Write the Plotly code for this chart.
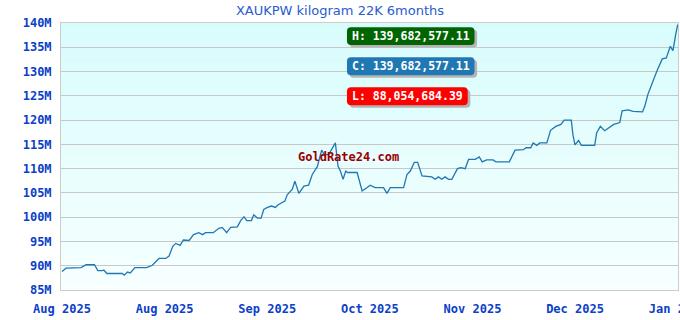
import plotly.graph_objects as go

# ---- data ----
day_offsets = [0, 1.2, 5.7, 7.2, 9.7, 10.7, 12.1, 12.5, 13.4, 18.0, 18.6, 19.6, 20.4, 21.8,
               25.3, 27.0, 29.0, 31.0, 32.0, 33.1, 34.0, 35.3, 36.3, 38.0, 39.3, 40.9, 42.0,
               42.9, 45.2, 46.9, 47.9, 49.2, 50.4, 52.4, 53.4, 54.4, 55.2, 56.6, 57.3, 58.4,
               59.5, 60.3, 61.4, 62.6, 63.8, 64.5, 66.6, 67.3, 68.8, 69.6, 70.8, 72.3, 73.7,
               74.8, 76.3, 77.6, 78.4, 79.7, 81.7, 82.5, 83.2, 84.0, 84.8, 85.3, 88.2, 89.7,
               91.2, 92.1, 93.6, 96.1, 97.1, 98.1, 102.1, 103.1, 104.1, 105.3, 106.3, 107.6,
               110.5, 111.5, 112.5, 113.5, 114.5, 115.5, 116.5, 118.2, 119.2, 120.5, 121.5,
               123.5, 124.7, 125.6, 126.9, 128.8, 129.7, 133.7, 135.4, 137.9, 138.7, 140.1,
               140.8, 141.9, 142.8, 144.9, 146.0, 147.6, 149.1, 150.1, 152.2, 152.7, 153.3,
               154.4, 155.2, 159.2, 159.8, 160.9, 162.2, 163.6, 164.9, 166.7, 167.4, 169.2,
               170.7, 173.5, 174.2, 175.1, 176.6, 177.8, 179.4, 180.6, 181.8, 182.6, 183.4,
               184.0]
price_m = [88.8, 89.5, 89.6, 90.2, 90.2, 89.0, 89.0, 89.1, 88.4, 88.4, 88.0547, 88.7, 88.5,
           89.6, 89.6, 90.1, 91.5, 91.5, 92.0, 94.0, 94.6, 94.2, 95.3, 95.2, 96.4, 96.8, 96.4,
           96.8, 96.8, 97.7, 97.9, 96.8, 97.9, 98.0, 99.3, 100.1, 99.3, 99.3, 100.5, 99.8,
           99.8, 101.6, 102.0, 102.3, 102.0, 102.5, 103.3, 104.6, 105.7, 107.4, 104.9, 106.4,
           106.6, 108.8, 110.4, 113.8, 112.9, 112.9, 115.3, 110.5, 109.5, 107.8, 109.5, 109.2,
           109.2, 105.4, 106.1, 106.6, 106.1, 106.1, 104.9, 106.1, 106.1, 108.8, 109.5, 111.3,
           111.3, 108.5, 108.3, 107.8, 108.3, 107.8, 108.3, 107.8, 107.8, 110.0, 110.2, 110.0,
           111.9, 111.9, 112.4, 111.4, 111.8, 111.8, 111.4, 111.4, 113.8, 113.9, 114.3, 114.3,
           115.3, 114.8, 115.3, 115.3, 117.9, 118.7, 119.1, 120.0, 120.0, 117.0, 114.9, 115.8,
           114.8, 114.8, 117.4, 118.7, 117.8, 118.5, 119.1, 119.5, 121.9, 122.1, 121.8, 121.7,
           122.9, 125.3, 128.0, 130.1, 132.6, 132.8, 135.2, 134.3, 137.6, 139.682577]

y_tick_vals = [85, 90, 95, 100, 105, 110, 115, 120, 125, 130, 135, 140]
y_tick_text = ["85M", "90M", "95M", "100M", "105M", "110M", "115M", "120M", "125M",
               "130M", "135M", "140M"]
x_tick_vals = [0, 30.67, 61.33, 92.0, 122.67, 153.33, 184.0]
x_tick_text = ["Aug 2025", "Aug 2025", "Sep 2025", "Oct 2025", "Nov 2025", "Dec 2025",
               "Jan 2026"]

title_text = "XAUKPW kilogram 22K 6months"
high_label = "H: 139,682,577.11"
close_label = "C: 139,682,577.11"
low_label = "L: 88,054,684.39"
watermark = "GoldRate24.com"

# ---- figure ----
mono = "DejaVu Sans Mono"
tick_color = "#0b40c8"

fig = go.Figure()
fig.add_trace(go.Scatter(x=day_offsets, y=price_m, mode="lines",
                         line=dict(color="#1f77b4", width=1.3), hoverinfo="skip"))

# gradient plot background
n_bands = 40
top_rgb = (216, 252, 252)
bot_rgb = (247, 255, 255)
shapes = []
for i in range(n_bands):
    t = i / (n_bands - 1)
    r = round(top_rgb[0] + (bot_rgb[0] - top_rgb[0]) * t)
    g = round(top_rgb[1] + (bot_rgb[1] - top_rgb[1]) * t)
    b = round(top_rgb[2] + (bot_rgb[2] - top_rgb[2]) * t)
    shapes.append(dict(type="rect", xref="paper", yref="paper", layer="below",
                       x0=0, x1=1, y1=1 - i / n_bands, y0=1 - (i + 1) / n_bands,
                       fillcolor=f"rgb({r},{g},{b})", line=dict(width=0)))


def rounded(x0, y0, x1, y1, rx=4 / 617, ry=4 / 267):
    # y0 top (larger), y1 bottom (smaller), paper coords
    return (f"M {x0 + rx},{y0} L {x1 - rx},{y0} Q {x1},{y0} {x1},{y0 - ry} "
            f"L {x1},{y1 + ry} Q {x1},{y1} {x1 - rx},{y1} L {x0 + rx},{y1} "
            f"Q {x0},{y1} {x0},{y1 + ry} L {x0},{y0 - ry} Q {x0},{y0} {x0 + rx},{y0} Z")


# label boxes: (text, colour, x0, x1, ytop, ybottom) in paper units
boxes = [(high_label, "#006400", 0.4635, 0.6702, 0.9839, 0.9176),
         (close_label, "#1f77b4", 0.4635, 0.6702, 0.8715, 0.8041),
         (low_label, "#ff0000", 0.4635, 0.6592, 0.7592, 0.6918)]
dx, dy = 0.0042, 0.0095
annotations = []
for txt, col, x0, x1, yt, yb in boxes:
    shapes.append(dict(type="path", xref="paper", yref="paper", layer="above",
                       path=rounded(x0 + dx, yt - dy, x1 + dx, yb - dy),
                       fillcolor="#b4b4b4", line=dict(width=0)))
    shapes.append(dict(type="path", xref="paper", yref="paper", layer="above",
                       path=rounded(x0, yt, x1, yb),
                       fillcolor=col, line=dict(width=0)))
    annotations.append(dict(text=txt, xref="paper", yref="paper", x=(x0 + x1) / 2,
                            y=(yt + yb) / 2, xanchor="center", yanchor="middle",
                            showarrow=False,
                            font=dict(family=mono, size=11.5, color="white", weight="bold")))
annotations.append(dict(text=watermark, xref="paper", yref="paper", x=0.4657, y=0.4964,
                        xanchor="center", yanchor="middle", showarrow=False,
                        font=dict(family=mono, size=12, color="#990000", weight="bold")))

fig.update_layout(
    width=680, height=320,
    margin=dict(l=61, r=2, t=23, b=30, autoexpand=False),
    paper_bgcolor="white", plot_bgcolor="rgb(240,254,254)",
    showlegend=False,
    title=dict(text=title_text, x=0.5, xanchor="center", y=0.982, yanchor="top",
               font=dict(family="DejaVu Sans", size=13, color="#2a5bd0")),
    shapes=shapes, annotations=annotations,
    xaxis=dict(range=[-0.3, 184.1], tickvals=x_tick_vals, ticktext=x_tick_text,
               showgrid=False, zeroline=False, showline=True, mirror=True,
               linecolor="#cccccc", linewidth=1, ticks="", ticklabelstandoff=8,
               ticklabeloverflow="allow", automargin=False,
               tickfont=dict(family=mono, size=12, color=tick_color, weight="bold")),
    yaxis=dict(range=[85, 140], tickvals=y_tick_vals, ticktext=y_tick_text,
               showgrid=True, gridcolor="#c8c8c8", gridwidth=1, zeroline=False,
               showline=True, mirror=True, linecolor="#cccccc", linewidth=1,
               ticks="", ticklabelstandoff=6, automargin=False,
               tickfont=dict(family=mono, size=12, color=tick_color, weight="bold")),
)

fig.write_html("out.html")
